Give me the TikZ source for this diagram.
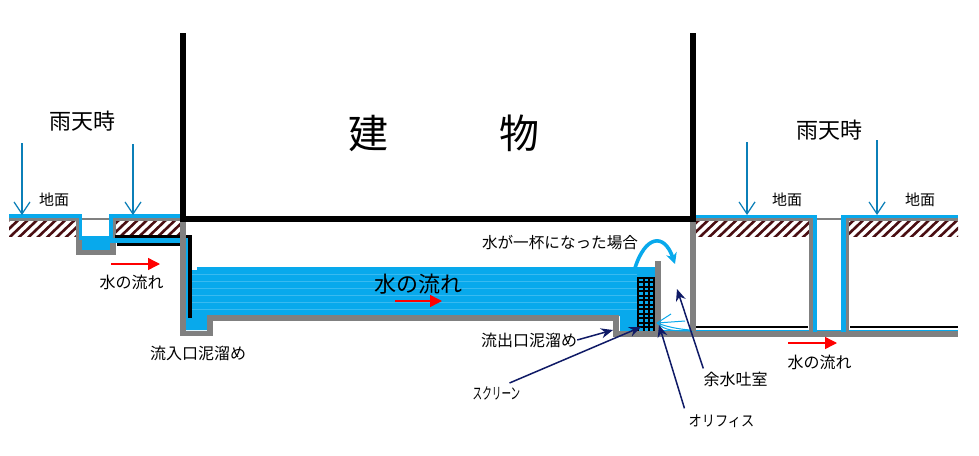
\documentclass[tikz,border=0pt]{standalone}
\usepackage{fontspec}
\setmainfont{Noto Sans CJK JP}
\usetikzlibrary{arrows.meta}
\definecolor{waterblue}{HTML}{08A9EC}
\definecolor{rainblue}{HTML}{0B7FB8}
\definecolor{wallgray}{HTML}{808080}
\definecolor{earthred}{HTML}{4A0E12}
\definecolor{notenavy}{HTML}{0F1A66}
\newcommand{\jfont}[1]{\fontsize{#1}{#1}\selectfont}
\tikzset{rain/.style={-{Straight Barb[length=12pt,width=16pt]}, rainblue, line width=1.2pt},
  flow/.style={-{Triangle[length=12pt,width=12pt]}, red, line width=1.4pt},
  note/.style={-{Stealth[length=12pt,width=10pt]}, notenavy, line width=1.5pt},
  wall/.style={fill=wallgray},
  water/.style={fill=waterblue},
  hatch/.style={earthred, line width=2.6pt},
  lbl/.style={inner sep=0pt, font=\jfont{16}}}

\begin{document}
\begin{tikzpicture}[x=1pt,y=-1pt]
  \useasboundingbox[fill=white] (0,0) rectangle (979,455);
  % earth bands
  \begin{scope}
    \clip (9,221) rectangle (77,236);
    \foreach \hx in {-10,-0.6,...,80} \draw[hatch] (\hx,238) -- ++(20,-19);
  \end{scope}
  \begin{scope}
    \clip (116,221) rectangle (181,236);
    \foreach \hx in {100,109.4,...,185} \draw[hatch] (\hx,238) -- ++(20,-19);
  \end{scope}
  \begin{scope}
    \clip (696,221) rectangle (810,236);
    \foreach \hx in {680,689.4,...,815} \draw[hatch] (\hx,238) -- ++(20,-19);
  \end{scope}
  \begin{scope}
    \clip (849,221) rectangle (958,236);
    \foreach \hx in {835,844.4,...,960} \draw[hatch] (\hx,238) -- ++(20,-19);
  \end{scope}
  % water in the tank
  \fill[water] (197,267) -- (655,267) -- (655,331) -- (620,331) -- (620,316) -- (208,316)
    -- (208,330) -- (186,330) -- (186,238) -- (188,238) -- (188,318) -- (192,318) -- (192,270) -- (197,270) -- cycle;
  \foreach \wy in {274,281,...,312} \draw[waterblue!80!white, line width=0.4pt] (192,\wy) -- (637,\wy);
  % left inlet
  \fill[wall] (9,218) rectangle (82,221);
  \fill[wall] (110,218) rectangle (181,221);
  \fill[wall] (82,217.5) rectangle (110,219.5);
  \fill[wall] (76,219) rectangle (82,255);
  \fill[wall] (76,250) rectangle (116,255);
  \fill[wall] (110,220) rectangle (116,255);
  \fill[water] (82,236) rectangle (110,250);
  \fill[water] (9,214) rectangle (82,218);
  \fill[water] (79,215) rectangle (82,240);
  \fill[water] (113,214) rectangle (181,218);
  \fill[water] (109,214) rectangle (113,238);
  \fill[black] (115,234.5) rectangle (180,238);
  \fill[black] (117,242.5) rectangle (180,246);
  \fill[water] (110,238) rectangle (188,242.5);
  \fill[wall] (180,221) rectangle (186,336);
  \fill[black] (186,234.5) rectangle (192,238);
  \fill[black] (188,234.5) rectangle (192,318);
  % tank floor
  \fill[wall] (180,330.5) rectangle (213,336);
  \fill[wall] (207,315) rectangle (213,336);
  \fill[wall] (207,315) rectangle (619,320.5);
  \fill[wall] (613,315) rectangle (619,337);
  \fill[wall] (613,331) rectangle (958,337);
  \fill[wall] (655,261) rectangle (661,337);
  \draw[waterblue, line width=1.3pt] (661,330.5) -- (958,330.5);
  % screen
  \fill[water] (637,277) rectangle (655,331);
  \foreach \sx in {638,643.5,648.5,654} \draw[black, line width=2pt] (\sx,277) -- (\sx,331);
  \foreach \sy in {277.5,282,...,331} \draw[black, line width=2pt] (637,\sy) -- (655,\sy);
  % orifice jets
  \draw[waterblue, line width=1pt] (657,323) -- (671,314);
  \draw[waterblue, line width=1pt] (657,323) -- (685,321);
  \draw[waterblue, line width=1pt] (657,323) .. controls (670,328) and (685,330) .. (693,330);
  \draw[waterblue, line width=1pt] (657,323) .. controls (665,331) and (675,331) .. (693,331);
  % right side
  \fill[wall] (690,218) rectangle (696,331);
  \fill[wall] (696,218) rectangle (813,221);
  \fill[wall] (809,218) rectangle (813,331);
  \fill[wall] (817,217.5) rectangle (842,219.5);
  \fill[wall] (846,218) rectangle (958,221);
  \fill[wall] (846,218) rectangle (849,331);
  \fill[black] (696,325.5) rectangle (808,327.5);
  \fill[black] (850,325.5) rectangle (958,327.5);
  \fill[water] (694,214.5) rectangle (817,218);
  \fill[water] (813,215) rectangle (817,332);
  \fill[water] (841,214.5) rectangle (958,218);
  \fill[water] (841,215) rectangle (846,332);
  % building
  \fill[black] (180,33) rectangle (186,221.5);
  \fill[black] (690,33) rectangle (696,221.5);
  \fill[black] (180,216) rectangle (696,221.5);
  \node[font=\jfont{40}] (bldgA) at (368,133) {建};
  \node[font=\jfont{40}] (bldgB) at (519,133) {物};
  % labels
  \node[lbl, font=\jfont{22}] (rainL) at (82,121) {雨天時};
  \node[lbl, font=\jfont{22}] (rainR) at (829,130) {雨天時};
  \node[lbl, font=\jfont{15}] (groundA) at (54,200) {地面};
  \node[lbl, font=\jfont{15}] (groundB) at (787,200) {地面};
  \node[lbl, font=\jfont{15}] (groundC) at (920,200) {地面};
  \node[lbl] (flowL) at (131.5,282) {水の流れ};
  \node[lbl] (flowR) at (819.5,362) {水の流れ};
  \node[lbl, font=\jfont{22}] (flowM) at (418,284) {水の流れ};
  \node[lbl] (sumpIn) at (198,353) {流入口泥溜め};
  \node[lbl] (sumpOut) at (529,340) {流出口泥溜め};
  \node[lbl, font=\jfont{15.6}] (full) at (560,243) {水が一杯になった場合};
  \node[lbl] (spill) at (735.5,379) {余水吐室};
  \node[lbl, font=\jfont{15}, xscale=0.88] (orifice) at (721.5,421) {オリフィス};
  \node[lbl, font=\jfont{16}, xscale=0.6] (screenlbl) at (496.5,393) {スクリーン};
  % rain arrows
  \coordinate (rainA) at (22,143);  \coordinate (rainAe) at (22,215);
  \coordinate (rainB) at (133,144); \coordinate (rainBe) at (133,215);
  \coordinate (rainC) at (747,142); \coordinate (rainCe) at (747,215);
  \coordinate (rainD) at (877,140); \coordinate (rainDe) at (877,215);
  \draw[rain] (rainA) -- (rainAe);
  \draw[rain] (rainB) -- (rainBe);
  \draw[rain] (rainC) -- (rainCe);
  \draw[rain] (rainD) -- (rainDe);
  % flow arrows
  \coordinate (redA) at (111,264); \coordinate (redAe) at (160,264);
  \coordinate (redB) at (395,301); \coordinate (redBe) at (442,301);
  \coordinate (redC) at (788,343); \coordinate (redCe) at (837,343);
  \draw[flow] (redA) -- (redAe);
  \draw[flow] (redB) -- (redBe);
  \draw[flow] (redC) -- (redCe);
  % overflow
  \coordinate (over) at (635,268); \coordinate (overe) at (675,264);
  \draw[-{Stealth[length=11pt,width=11pt]}, waterblue, line width=3.6pt]
    (over) .. controls (645,236) and (664,232) .. (overe);
  % notes
  \coordinate (tipOut) at (613,330);
  \coordinate (tipScreen) at (641,327);
  \coordinate (tipOrifice) at (659,325);
  \coordinate (tipSpill) at (677,289);
  \draw[note] (sumpOut.east) -- (tipOut);
  \draw[note] ([xshift=13pt,yshift=3pt]screenlbl.north) -- (tipScreen);
  \draw[note] ([xshift=-4pt,yshift=6pt]orifice.north west) -- (tipOrifice);
  \draw[note] ([yshift=3pt]spill.north west) -- (tipSpill);
\end{tikzpicture}
\end{document}
